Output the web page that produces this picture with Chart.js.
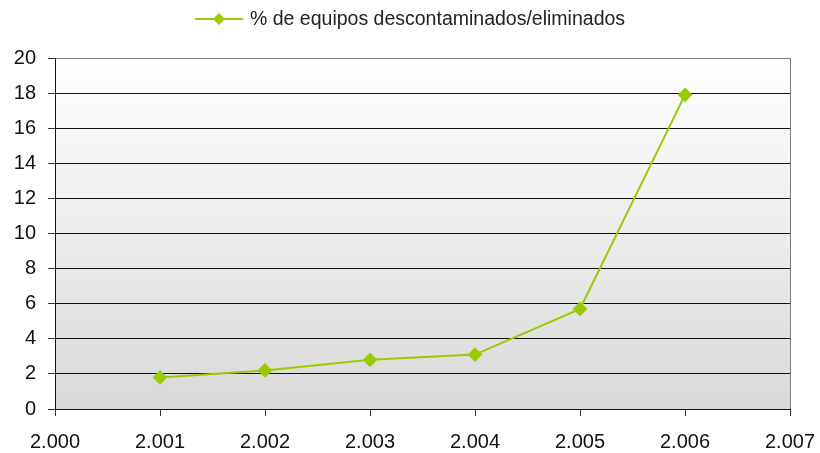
<!DOCTYPE html>
<html>
<head>
<meta charset="utf-8">
<script src="https://cdn.jsdelivr.net/npm/chart.js@4.4.0/dist/chart.umd.min.js"></script>
<style>
  html, body { margin: 0; padding: 0; background: #ffffff; }
  #wrap { width: 820px; height: 453px; }
</style>
</head>
<body>
<div id="wrap"><canvas id="chart" width="820" height="453"></canvas></div>
<script>
// Data
const years = [2001, 2002, 2003, 2004, 2005, 2006];
const pctValues = [1.8, 2.2, 2.8, 3.1, 5.7, 17.9];
const seriesLabel = "% de equipos descontaminados/eliminados";
const xTicks = [2000, 2001, 2002, 2003, 2004, 2005, 2006, 2007];
const yTicks = [0, 2, 4, 6, 8, 10, 12, 14, 16, 18, 20];

const lineColor = "#99cc00";
const fontFamily = "'Liberation Sans', Arial, sans-serif";

// Plot area background: white at the top fading to light gray
const bgPlugin = {
    id: "plotBg",
    beforeDraw(chart) {
        const a = chart.chartArea;
        const ctx = chart.ctx;
        const grad = ctx.createLinearGradient(0, a.top, 0, a.bottom);
        grad.addColorStop(0, "#ffffff");
        grad.addColorStop(1, "#d9d9d9");
        ctx.save();
        ctx.fillStyle = grad;
        ctx.fillRect(a.left, a.top, a.right - a.left, a.bottom - a.top);
        ctx.restore();
    }
};

// Legend at the top: line with a diamond, then the series name
const legendPlugin = {
    id: "topLegend",
    afterDraw(chart) {
        const ctx = chart.ctx;
        const ds = chart.data.datasets[0];
        ctx.save();
        ctx.font = "19.5px " + fontFamily;
        const tw = ctx.measureText(ds.label).width;
        const symW = 48, gap = 7;
        const total = symW + gap + tw;
        const x0 = Math.round(chart.width / 2 - total / 2);
        const cy = 19;
        ctx.strokeStyle = ds.borderColor;
        ctx.lineWidth = 2;
        ctx.beginPath(); ctx.moveTo(x0, cy); ctx.lineTo(x0 + symW, cy); ctx.stroke();
        ctx.fillStyle = ds.borderColor;
        const mx = x0 + symW / 2;
        ctx.beginPath();
        ctx.moveTo(mx, cy - 6); ctx.lineTo(mx + 6, cy); ctx.lineTo(mx, cy + 6); ctx.lineTo(mx - 6, cy);
        ctx.closePath(); ctx.fill();
        ctx.fillStyle = "#222222";
        ctx.textBaseline = "middle";
        ctx.fillText(ds.label, x0 + symW + gap, cy + 1);
        ctx.restore();
    }
};

function thousands(v) {
    return String(v).replace(/\B(?=(\d{3})+(?!\d))/g, ".");
}

const ctx = document.getElementById("chart").getContext("2d");
new Chart(ctx, {
    type: "line",
    data: {
        datasets: [{
            label: seriesLabel,
            data: years.map((y, i) => ({x: y, y: pctValues[i]})),
            borderColor: lineColor,
            backgroundColor: lineColor,
            borderWidth: 2,
            pointStyle: "rectRot",
            pointRadius: 6,
            pointHoverRadius: 6,
            tension: 0
        }]
    },
    options: {
        responsive: false,
        animation: false,
        layout: { padding: { left: 0, right: 30, top: 58, bottom: 0 } },
        plugins: {
            legend: { display: false },
            tooltip: { enabled: false }
        },
        scales: {
            x: {
                type: "linear",
                min: 2000,
                max: 2007,
                afterBuildTicks(scale) { scale.ticks = xTicks.map(v => ({value: v})); },
                afterFit(scale) {
                    scale.height = 44;
                    scale.paddingLeft = 0;
                    scale.paddingRight = 0;
                },
                ticks: {
                    callback: v => thousands(v),
                    color: "#111111",
                    font: { family: fontFamily, size: 20 },
                    padding: 14,
                    maxRotation: 0
                },
                grid: {
                    drawOnChartArea: true,
                    color: c => (c.tick && c.tick.value === 2007) ? "#808080" : "rgba(0,0,0,0)",
                    tickColor: "#333333",
                    tickLength: 7,
                    lineWidth: 1
                },
                border: { color: "#111111", width: 1 }
            },
            y: {
                min: 0,
                max: 20,
                afterBuildTicks(scale) { scale.ticks = yTicks.map(v => ({value: v})); },
                afterFit(scale) { scale.width = 55; },
                ticks: {
                    color: "#111111",
                    font: { family: fontFamily, size: 20 },
                    padding: 12
                },
                grid: {
                    color: c => (c.tick && c.tick.value === 20) ? "#808080" : "#111111",
                    tickColor: "#333333",
                    tickLength: 7,
                    lineWidth: 1
                },
                border: { color: "#111111", width: 1 }
            }
        }
    },
    plugins: [bgPlugin, legendPlugin]
});
</script>
</body>
</html>
